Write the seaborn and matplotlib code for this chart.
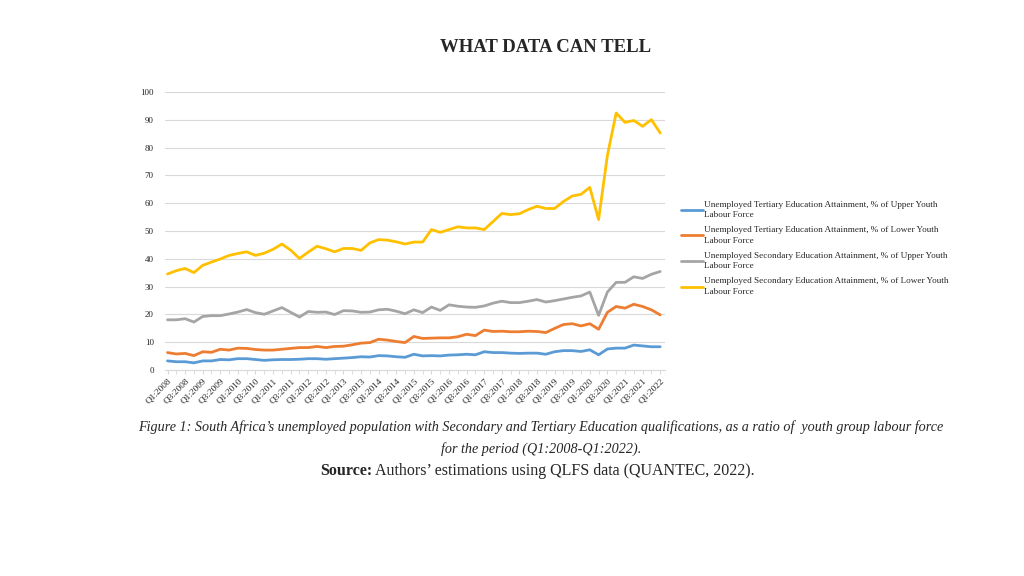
import numpy as np
import pandas as pd
import seaborn as sns
import matplotlib.pyplot as plt

# quarterly series Q1:2008 .. Q1:2022
quarters = [f"Q{q}:{y}" for y in range(2008, 2023) for q in range(1, 5)][:57]

tert_upper = [3.2, 2.9, 2.9, 2.5, 3.2, 3.2, 3.7, 3.6, 4.0, 4.0, 3.7, 3.4, 3.6, 3.7, 3.7, 3.8,
              4.0, 4.0, 3.8, 4.0, 4.2, 4.4, 4.7, 4.6, 5.1, 5.0, 4.7, 4.5, 5.6, 5.0, 5.1, 5.0,
              5.3, 5.4, 5.6, 5.4, 6.5, 6.2, 6.2, 6.0, 5.9, 6.0, 6.0, 5.6, 6.5, 6.9, 6.9, 6.6,
              7.2, 5.4, 7.5, 7.8, 7.8, 8.9, 8.6, 8.3, 8.3]
tert_lower = [6.2, 5.7, 5.9, 5.1, 6.5, 6.3, 7.4, 7.1, 7.8, 7.7, 7.3, 7.1, 7.1, 7.4, 7.7, 8.0,
              8.0, 8.4, 8.0, 8.4, 8.5, 9.0, 9.6, 9.8, 11.0, 10.7, 10.2, 9.8, 12.0, 11.3, 11.4, 11.5,
              11.5, 11.9, 12.8, 12.3, 14.3, 13.8, 13.9, 13.7, 13.7, 13.9, 13.8, 13.4, 14.9, 16.3, 16.6, 15.8,
              16.6, 14.6, 20.7, 22.8, 22.2, 23.6, 22.8, 21.6, 19.8]
sec_upper = [18.0, 18.0, 18.4, 17.2, 19.2, 19.5, 19.5, 20.1, 20.8, 21.7, 20.6, 20.0, 21.2, 22.4, 20.7, 19.0,
             21.0, 20.7, 20.8, 19.9, 21.3, 21.2, 20.7, 20.8, 21.6, 21.8, 21.1, 20.2, 21.6, 20.6, 22.6, 21.4,
             23.4, 22.9, 22.6, 22.5, 23.0, 24.0, 24.7, 24.2, 24.2, 24.7, 25.3, 24.4, 24.9, 25.5, 26.1, 26.6,
             28.0, 19.6, 28.0, 31.5, 31.5, 33.5, 32.9, 34.4, 35.4]
sec_lower = [34.5, 35.7, 36.5, 35.0, 37.6, 38.8, 39.9, 41.2, 41.9, 42.5, 41.2, 42.0, 43.4, 45.3, 43.1, 40.1,
             42.4, 44.5, 43.6, 42.5, 43.7, 43.7, 43.0, 45.7, 46.9, 46.7, 46.1, 45.3, 46.0, 46.0, 50.5, 49.5,
             50.5, 51.5, 51.1, 51.1, 50.5, 53.4, 56.3, 55.9, 56.2, 57.7, 58.9, 58.1, 58.1, 60.6, 62.6, 63.2,
             65.7, 54.1, 77.2, 92.5, 89.1, 89.8, 87.7, 90.1, 85.3]

series_names = [
    "Unemployed Tertiary Education Attainment, % of Upper Youth\nLabour Force",
    "Unemployed Tertiary Education Attainment, % of Lower Youth\nLabour Force",
    "Unemployed Secondary Education Attainment, % of Upper Youth\nLabour Force",
    "Unemployed Secondary Education Attainment, % of Lower Youth\nLabour Force",
]
colors = ["#5B9BD5", "#ED7D31", "#A5A5A5", "#FFC000"]

rows = []
for name, vals in zip(series_names, [tert_upper, tert_lower, sec_upper, sec_lower]):
    for i, v in enumerate(vals):
        rows.append({"idx": i, "value": v, "series": name})
df = pd.DataFrame(rows)

sns.set_style("white")
plt.rcParams['font.family'] = ['Liberation Serif', 'DejaVu Serif']

fig = plt.figure(figsize=(10.24, 5.76), dpi=100)
ax = fig.add_axes([0.161, 0.358, 0.488, 0.482])

sns.lineplot(data=df, x="idx", y="value", hue="series", palette=colors,
             hue_order=series_names, linewidth=2, ax=ax, legend=False)

ax.set_xlim(-0.3, 56.5)
ax.set_ylim(0, 100)
ax.set_yticks(range(0, 101, 10))
ax.yaxis.grid(True, color="#D9D9D9", linewidth=0.8)
ax.set_axisbelow(True)
for s in ["top", "right", "left"]:
    ax.spines[s].set_visible(False)
ax.spines["bottom"].set_color("#D9D9D9")
ax.spines["bottom"].set_linewidth(0.8)

ax.set_xticks(range(0, 57, 2))
ax.set_xticklabels(quarters[::2], rotation=45, ha="right", rotation_mode="anchor", fontsize=6.7)
ax.set_xticks(range(0, 57), minor=True)
ax.tick_params(axis="x", which="both", length=3, color="#D9D9D9", bottom=True, pad=2)
ax.tick_params(axis="y", length=0, labelsize=6.5, pad=8)
ax.set_xlabel("")
ax.set_ylabel("")

handles = [plt.Line2D([], [], color=c, linewidth=2) for c in colors]
leg = fig.legend(handles, series_names, loc="upper left", bbox_to_anchor=(0.657, 0.666),
                 frameon=False, fontsize=6.6, handlelength=2.4, handletextpad=0.12,
                 labelspacing=0.75)
for t in leg.get_texts():
    t.set_linespacing(1.45)

fig.text(0.533, 0.918, "WHAT DATA CAN TELL", ha="center", va="center",
         fontsize=13.5, fontweight="bold")

fig.text(0.528, 0.258,
         "Figure 1: South Africa\u2019s unemployed population with Secondary and Tertiary Education qualifications, as a ratio of  youth group labour force",
         ha="center", va="center", fontsize=10.2, style="italic")
fig.text(0.528, 0.220, "for the period (Q1:2008-Q1:2022).", ha="center", va="center",
         fontsize=10.2, style="italic")
fig.text(0.364, 0.182, "Source:", ha="right", va="center", fontsize=11.5, fontweight="bold")
fig.text(0.366, 0.182, "Authors\u2019 estimations using QLFS data (QUANTEC, 2022).",
         ha="left", va="center", fontsize=11.5)

fig.savefig("out.png", dpi=100)
